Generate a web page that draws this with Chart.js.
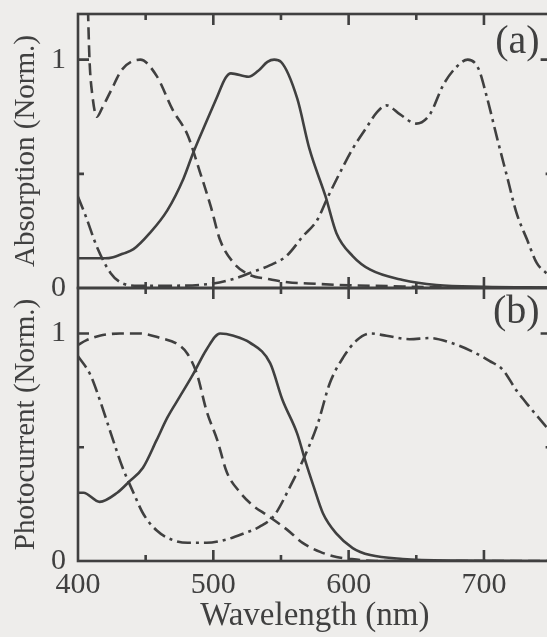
<!DOCTYPE html>
<html>
<head>
<meta charset="utf-8">
<script src="https://cdn.jsdelivr.net/npm/chart.js@4"></script>
<style>
  html, body { margin: 0; padding: 0; background: #eeedeb; overflow: hidden; width: 547px; height: 637px; }
  #wrap { position: relative; width: 560px; height: 637px; }
  canvas { position: absolute; left: 0; top: 0; }
</style>
</head>
<body>
<div id="wrap">
  <canvas id="absChart" width="560" height="637"></canvas>
  <canvas id="pcChart" width="560" height="637"></canvas>
</div>
<script>
// values, wavelength in nm, signal normalized

// (a) absorption
const absSolidWl = [400, 410, 420, 426, 433, 441, 453, 466, 478, 485, 495, 503, 509, 513, 526, 533, 540, 545, 550, 562, 571, 583, 591, 603, 616, 640, 665, 700, 750];
const absSolidVal = [0.13, 0.13, 0.13, 0.135, 0.15, 0.17, 0.24, 0.34, 0.48, 0.59, 0.73, 0.84, 0.92, 0.94, 0.925, 0.95, 0.99, 1.0, 0.99, 0.83, 0.61, 0.40, 0.24, 0.14, 0.08, 0.035, 0.013, 0.005, 0.002];

const absDashWl = [407, 408.5, 410.5, 414, 418, 424, 433, 446, 458, 470, 481, 490, 498, 505, 515, 527, 540, 555, 570, 600, 630, 660, 750];
const absDashVal = [1.3, 1.0, 0.85, 0.75, 0.79, 0.86, 0.96, 1.0, 0.93, 0.78, 0.67, 0.51, 0.36, 0.21, 0.11, 0.057, 0.04, 0.025, 0.02, 0.012, 0.008, 0.004, 0.0];

const absDashDotWl = [400, 406, 414, 424, 433, 445, 470, 500, 515, 529, 542, 554, 566, 577, 584, 594, 603, 614, 621, 628, 638, 650, 660, 670, 680, 688, 696, 702, 710, 717, 724, 732, 739, 746, 750];
const absDashDotVal = [0.40, 0.31, 0.18, 0.066, 0.02, 0.01, 0.01, 0.02, 0.04, 0.07, 0.10, 0.14, 0.225, 0.30, 0.39, 0.51, 0.61, 0.71, 0.77, 0.80, 0.76, 0.72, 0.76, 0.89, 0.97, 1.0, 0.96, 0.84, 0.65, 0.49, 0.33, 0.21, 0.11, 0.066, 0.05];

// (b) photocurrent
const pcSolidWl = [400, 404, 416, 429, 438, 448, 458, 466, 475, 485, 495, 505, 515, 527, 542, 551, 562, 568, 574, 581, 591, 603, 616, 640, 680, 750];
const pcSolidVal = [0.30, 0.30, 0.26, 0.30, 0.35, 0.41, 0.53, 0.63, 0.72, 0.82, 0.93, 1.0, 0.99, 0.96, 0.87, 0.71, 0.56, 0.44, 0.33, 0.21, 0.12, 0.057, 0.026, 0.009, 0.002, 0];

const pcDashWl = [400, 406, 416, 431, 446, 461, 473, 481, 488, 495, 503, 510, 520, 529, 540, 554, 566, 579, 591, 600, 620, 750];
const pcDashVal = [0.95, 0.97, 0.99, 1.0, 1.0, 0.98, 0.955, 0.91, 0.82, 0.66, 0.53, 0.39, 0.30, 0.245, 0.20, 0.14, 0.08, 0.04, 0.018, 0.01, 0.0, 0];

const pcDashDotWl = [400, 409, 416, 426, 433, 441, 448, 458, 470, 481, 495, 510, 522, 534, 545, 557, 566, 577, 586, 596, 606, 616, 628, 645, 660, 675, 690, 704, 714, 724, 734, 746, 750];
const pcDashDotVal = [0.90, 0.82, 0.71, 0.53, 0.41, 0.30, 0.21, 0.135, 0.092, 0.08, 0.08, 0.095, 0.12, 0.15, 0.20, 0.33, 0.44, 0.60, 0.78, 0.895, 0.97, 1.0, 0.99, 0.975, 0.98, 0.96, 0.925, 0.88, 0.84, 0.75, 0.675, 0.59, 0.56];

// axis ticks
const xTickMarks = [450, 500, 550, 600, 650, 700];
const yTickMarks = [0.5, 1];
const xLabelled = [400, 500, 600, 700];
const yLabelled = [0, 1];

const ink = '#404040';
const serif = '"Liberation Serif", "Times New Roman", serif';

Chart.defaults.font.family = serif;
Chart.defaults.color = ink;

function pts(xs, ys) {
  return xs.map((x, i) => ({ x: x, y: ys[i] }));
}

function line(xs, ys, dash) {
  return {
    data: pts(xs, ys),
    borderColor: ink,
    borderWidth: 2.6,
    borderDash: dash,
    pointRadius: 0,
    fill: false,
    cubicInterpolationMode: 'monotone'
  };
}

// frame with inward ticks + panel letter
const frameTicks = {
  id: 'frameTicks',
  afterDatasetsDraw(chart, args, opts) {
    const { ctx, chartArea: a, scales: { x, y } } = chart;
    ctx.save();
    ctx.strokeStyle = ink;
    ctx.lineWidth = 2.6;
    ctx.strokeRect(a.left, a.top, a.right - a.left, a.bottom - a.top);
    ctx.beginPath();
    xTickMarks.forEach(v => {
      const px = x.getPixelForValue(v);
      const len = v % 100 === 0 ? 11 : 6;
      ctx.moveTo(px, a.top); ctx.lineTo(px, a.top + len);
      ctx.moveTo(px, a.bottom); ctx.lineTo(px, a.bottom - len);
    });
    yTickMarks.forEach(v => {
      const py = y.getPixelForValue(v);
      const len = v === 1 ? 11 : 6;
      ctx.moveTo(a.left, py); ctx.lineTo(a.left + len, py);
      ctx.moveTo(a.right, py); ctx.lineTo(a.right - len, py);
    });
    ctx.stroke();
    ctx.font = '40px ' + serif;
    ctx.fillStyle = ink;
    ctx.textAlign = 'right';
    ctx.textBaseline = 'middle';
    ctx.fillText(opts.label, a.right - 12, a.top + opts.dy);
    ctx.restore();
  }
};

function panelConfig(datasets, yTitle, label, dy, showX, pad) {
  return {
    type: 'line',
    data: { datasets: datasets },
    options: {
      responsive: false,
      animation: false,
      layout: { padding: pad },
      plugins: {
        legend: { display: false },
        tooltip: { enabled: false },
        frameTicks: { label: label, dy: dy }
      },
      scales: {
        x: {
          type: 'linear',
          min: 400,
          max: 750,
          display: showX,
          grid: { display: false, drawTicks: false },
          border: { display: false },
          afterBuildTicks: s => { s.ticks = xLabelled.map(v => ({ value: v })); },
          ticks: {
            autoSkip: false,
            maxRotation: 0,
            padding: 6,
            font: { size: 30 }
          },
          title: {
            display: true,
            text: 'Wavelength (nm)',
            font: { size: 33 },
            padding: { top: 0, bottom: 1 }
          },
          afterFit: s => {
            if (showX) s.height = 76;
            s.paddingLeft = 0;
            s.paddingRight = 0;
          }
        },
        y: {
          min: 0,
          max: 1.2,
          grid: { display: false, drawTicks: false },
          border: { display: false },
          afterBuildTicks: s => { s.ticks = yLabelled.map(v => ({ value: v })); },
          ticks: {
            padding: 12,
            font: { size: 30 }
          },
          title: {
            display: true,
            text: yTitle,
            font: { size: 29 },
            padding: { top: 9, bottom: 0 }
          },
          afterFit: s => {
            s.width = 78;
            s.paddingTop = 0;
            s.paddingBottom = 0;
          }
        }
      }
    },
    plugins: [frameTicks]
  };
}

const solid = [];
const dashed = [12, 6];
const dashDot = [14, 5, 3, 5];

const absChart = new Chart(
  document.getElementById('absChart'),
  panelConfig([
    line(absSolidWl, absSolidVal, solid),
    line(absDashWl, absDashVal, dashed),
    line(absDashDotWl, absDashDotVal, dashDot)
  ], 'Absorption (Norm.)', '(a)', 28, false, { left: 0, top: 14, right: 8.4, bottom: 349 })
);

const pcChart = new Chart(
  document.getElementById('pcChart'),
  panelConfig([
    line(pcSolidWl, pcSolidVal, solid),
    line(pcDashWl, pcDashVal, dashed),
    line(pcDashDotWl, pcDashDotVal, dashDot)
  ], 'Photocurrent (Norm.)', '(b)', 24, true, { left: 0, top: 288, right: 8.4, bottom: 0 })
);
</script>
</body>
</html>
